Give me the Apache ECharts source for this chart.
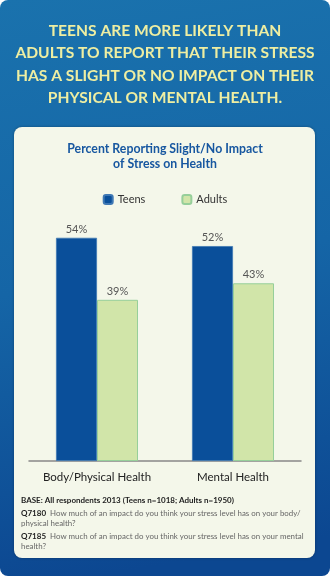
<!DOCTYPE html>
<html><head><meta charset="utf-8">
<style>html,body{margin:0;padding:0;background:#fff;}#c{width:330px;height:576px;}</style>
<script src="https://cdn.jsdelivr.net/npm/echarts@6/dist/echarts.min.js"></script>
</head><body><div id="c"></div>
<script>
const categories = ['Body/Physical Health', 'Mental Health'];
const seriesNames = ['Teens', 'Adults'];
const teens = [54, 52];
const adults = [39, 43];
const headline = ['TEENS ARE MORE LIKELY THAN', 'ADULTS TO REPORT THAT THEIR STRESS', 'HAS A SLIGHT OR NO IMPACT ON THEIR', 'PHYSICAL OR MENTAL HEALTH.'];
const chartTitle = ['Percent Reporting Slight/No Impact', 'of Stress on Health'];
const base = 'BASE: All respondents 2013 (Teens n=1018; Adults n=1950)';
const notes = [
  ['Q7180', 'How much of an impact do you think your stress level has on your body/', 'physical health?'],
  ['Q7185', 'How much of an impact do you think your stress level has on your mental', 'health?']
];

const chart = echarts.init(document.getElementById('c'));
const F = 'Lato, "Open Sans", sans-serif';
const graphics = [
  {type:'rect', z:-10, shape:{x:0,y:0,width:330,height:576,r:8},
   style:{fill:new echarts.graphic.LinearGradient(0,0,0.3,1,[{offset:0,color:'#1a72ad'},{offset:0.5,color:'#1565a6'},{offset:1,color:'#0c4791'}])}},
  {type:'rect', z:-9, shape:{x:14,y:127,width:301,height:431,r:8},
   style:{fill:'#f4f7ea', shadowBlur:3, shadowColor:'rgba(0,0,0,0.3)'}}
];
headline.forEach((t,i)=>graphics.push({type:'text', left:'center', top:23+i*22.3,
  style:{text:t, fill:'#eeeea2', font:'bold 15.6px '+F}}));
chartTitle.forEach((t,i)=>graphics.push({type:'text', left:'center', top:143+i*15.5,
  style:{text:t, fill:'#1757a0', font:'bold 12.3px '+F}}));
graphics.push({type:'text', left:21, top:496, style:{text:base, fill:'#222', font:'bold 8px '+F}});
notes.forEach((n,i)=>{
  graphics.push({type:'text', left:21, top:508+i*23, style:{
    text:'{b|'+n[0]+'}  '+n[1]+'\n'+n[2], fill:'#666', font:'7.9px '+F, lineHeight:10,
    rich:{b:{font:'bold 8px '+F, fill:'#222'}}}});
});

const option = {
  animation:false,
  graphic:graphics,
  legend:{top:189, left:'center', itemWidth:9, itemHeight:9, itemGap:36,
    textStyle:{color:'#333', fontSize:11, fontFamily:F},
    data:seriesNames},
  grid:{left:29, right:29, top:213, bottom:115},
  xAxis:{type:'category', data:categories,
    axisLine:{lineStyle:{color:'#888', width:1.5}}, axisTick:{show:false},
    axisLabel:{color:'#222', fontSize:11.5, fontFamily:F, margin:10, interval:0}},
  yAxis:{type:'value', min:0, max:60, show:false, splitLine:{show:false}},
  series:[
    {name:seriesNames[0], type:'bar', data:teens, barWidth:41, barGap:'0%',
     itemStyle:{color:'#0a4f9a', borderColor:'#3f78b4', borderWidth:0.8},
     label:{show:true, position:'top', formatter:'{c}%', color:'#555', fontSize:11, fontFamily:F, distance:3}},
    {name:seriesNames[1], type:'bar', data:adults, barWidth:41,
     itemStyle:{color:'#d1e5a9', borderColor:'#96cf9a', borderWidth:1},
     label:{show:true, position:'top', formatter:'{c}%', color:'#555', fontSize:11, fontFamily:F, distance:3}}
  ]
};
chart.setOption(option);
</script></body></html>
